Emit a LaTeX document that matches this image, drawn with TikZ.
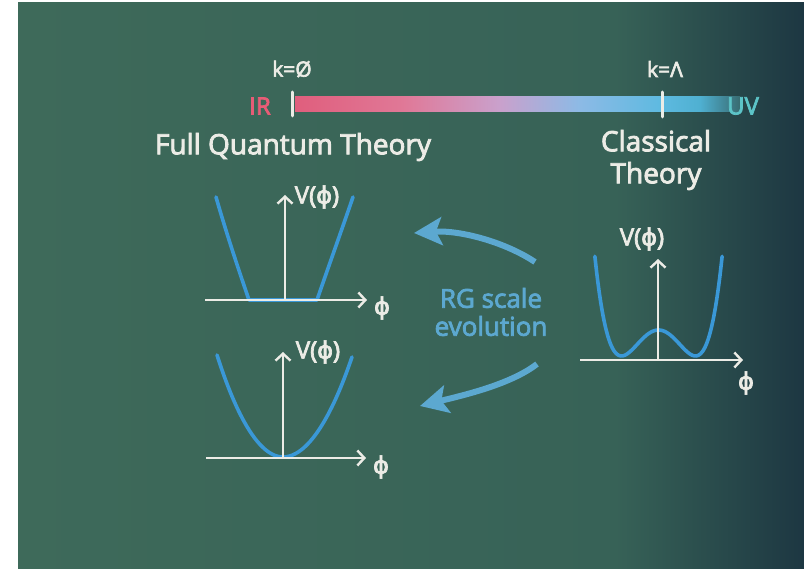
\documentclass[tikz,border=0pt]{standalone}
\usepackage{fontspec}
\setmainfont[FakeBold=3,AutoFakeBold=3]{Open Sans}
\newfontfamily\gr[FakeBold=3]{DejaVu Sans}
\usetikzlibrary{arrows.meta}
\definecolor{bgA}{RGB}{62,106,90}
\definecolor{bgB}{RGB}{55,98,87}
\definecolor{bgC}{RGB}{29,55,66}
\definecolor{chalk}{RGB}{236,236,230}
\definecolor{curveblue}{RGB}{58,152,215}
\definecolor{rgblue}{RGB}{92,168,208}
\definecolor{irred}{RGB}{232,92,118}
\definecolor{uvteal}{RGB}{92,196,200}
\pgfdeclarehorizontalshading{board}{100bp}{color(0bp)=(bgA); color(25bp)=(bgA); color(63bp)=(bgB); color(75bp)=(bgC); color(100bp)=(bgC)}
\pgfdeclarehorizontalshading{barshade}{100bp}{rgb(0bp)=(0.88,0.37,0.49); rgb(25bp)=(0.88,0.37,0.49); rgb(37bp)=(0.88,0.47,0.59); rgb(48bp)=(0.79,0.63,0.80); rgb(57bp)=(0.55,0.73,0.90); rgb(66bp)=(0.37,0.73,0.88); rgb(70.5bp)=(0.31,0.69,0.82); rgb(75bp)=(0.22,0.42,0.44); rgb(100bp)=(0.22,0.42,0.44)}
\tikzset{
  axis/.style={draw=chalk, line width=2.6pt, -{Straight Barb[length=7pt,width=15pt,line width=2.4pt]}},
  curve/.style={draw=curveblue, line width=3.6pt, line join=round, line cap=round},
  tick/.style={draw=chalk, line width=3pt, line cap=round},
  rgarrow/.style={draw=rgblue, line width=6pt, -{Stealth[length=28pt,width=28pt,inset=6pt]}},
  lbl/.style={text=chalk, inner sep=0pt},
  small/.style={font=\fontsize{21}{24}\selectfont},
  axlbl/.style={font=\fontsize{24}{28}\selectfont},
  big/.style={font=\fontsize{28}{32}\selectfont},
}
\begin{document}
\begin{tikzpicture}[x=1pt,y=-1pt]
\useasboundingbox (0,0) rectangle (804,569);
\fill[white] (0,0) rectangle (804,569);
\shade[shading=board] (18,3) rectangle (804,569);

% scale bar
\shade[shading=barshade] (295,97) rectangle (740,112);
\coordinate (t0a) at (292,92); \coordinate (t0b) at (292,116);
\coordinate (t1a) at (662,92); \coordinate (t1b) at (662,117);
\draw[tick] (t0a) -- (t0b);
\draw[tick] (t1a) -- (t1b);
\node[lbl, small] (k0) at (292,69) {k=Ø};
\node[lbl, small] (kL) at (665,69) {k=Λ};
\node[lbl, text=irred, font=\fontsize{24}{28}\selectfont] (IR) at (260,106) {IR};
\node[lbl, text=uvteal, font=\fontsize{24}{28}\selectfont] (UV) at (743,106) {UV};
\node[lbl, big] (fqt) at (293,147) {Full Quantum Theory};
\node[lbl, big, align=center] (ct) at (656,160) {Classical\\[0pt]Theory};

% plot 1: flat potential
\coordinate (o1a) at (205,300); \coordinate (o1b) at (367,300);
\coordinate (y1a) at (285,301); \coordinate (y1b) at (285,195);
\draw[curve] (216,197) .. controls (226,232) and (238,268) .. (249,300) -- (317,300) .. controls (328,268) and (341,232) .. (353,197);
\draw[axis] (o1a) -- (o1b);
\draw[axis] (y1a) -- (y1b);
\node[lbl, axlbl] (v1) at (317,197) {V({\gr ϕ})};
\node[lbl, axlbl] (p1) at (382,308) {\gr ϕ};

% plot 2: parabola
\coordinate (o2a) at (206,458); \coordinate (o2b) at (366,458);
\coordinate (y2a) at (283,459); \coordinate (y2b) at (283,352);
\draw[curve] (217,355) parabola bend (283,457) (352,357);
\draw[axis] (o2a) -- (o2b);
\draw[axis] (y2a) -- (y2b);
\node[lbl, axlbl] (v2) at (318,352) {V({\gr ϕ})};
\node[lbl, axlbl] (p2) at (381,467) {\gr ϕ};

% plot 3: double well
\coordinate (o3a) at (580,360); \coordinate (o3b) at (743,360);
\coordinate (y3a) at (658,361); \coordinate (y3b) at (658,259);
\draw[curve] plot[smooth, samples=60, domain=-1.72:1.72] ({658.5+37*\x},{356-26*(\x*\x-1)*(\x*\x-1)});
\draw[axis] (o3a) -- (o3b);
\draw[axis] (y3a) -- (y3b);
\node[lbl, axlbl] (v3) at (642,239) {V({\gr ϕ})};
\node[lbl, axlbl] (p3) at (746,383) {\gr ϕ};

% RG arrows and label
\node[lbl, text=rgblue, font=\fontsize{26}{30}\selectfont, align=center] (rg) at (491,312) {RG scale\\[-2pt]evolution};
\coordinate (a1s) at (535,262); \coordinate (a1e) at (414,233);
\coordinate (a2s) at (537,364); \coordinate (a2e) at (420,406);
\draw[rgarrow] (a1s) .. controls (505,242) and (460,230) .. (a1e);
\draw[rgarrow] (a2s) .. controls (510,385) and (460,396) .. (a2e);
\end{tikzpicture}
\end{document}
